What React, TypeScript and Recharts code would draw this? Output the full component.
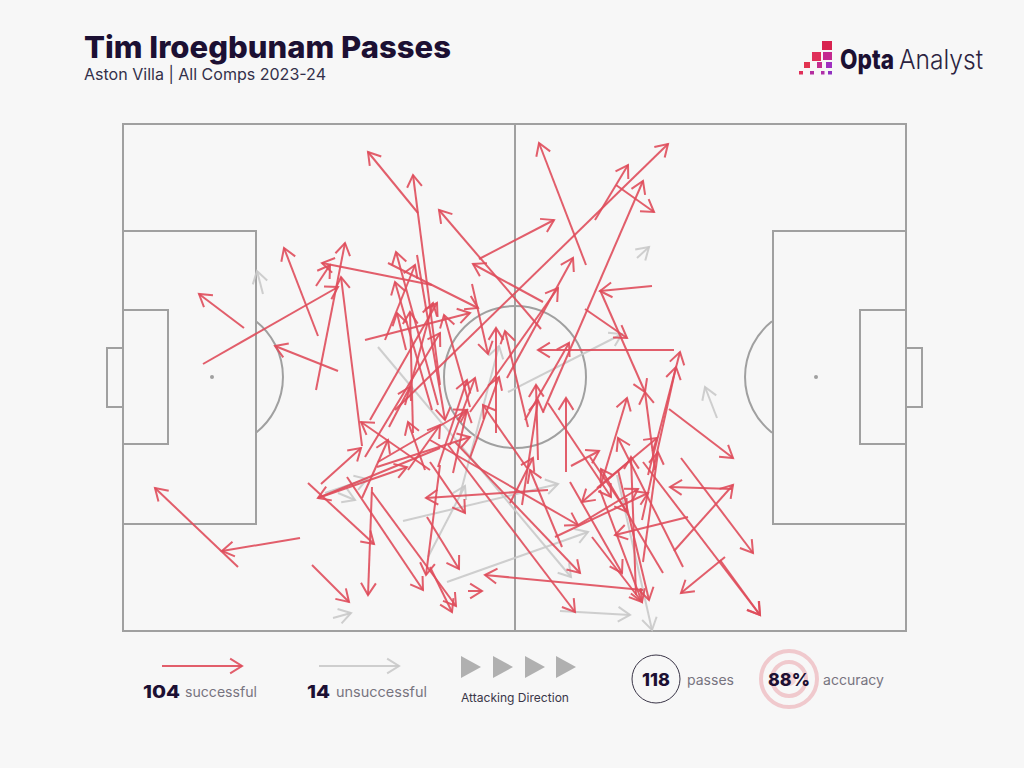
import React from "react";
import { ScatterChart, Scatter, XAxis, YAxis, ReferenceArea, ReferenceLine, ReferenceDot } from "recharts";

// pass = [fromX, fromY, toX, toY], on the pitch picture's own scale
const successfulPasses = [
  [238,567,155,488],[300,538,222,551],[244,328,199,294],[318,336,284,248],[338,371,275,346],
  [203,364,338,287],[316,390,345,243],[362,446,341,277],[321,484,361,448],[316,286,330,265],
  [432,285,322,263],[388,263,478,308],[418,213,368,152],[440,385,413,175],[541,329,439,210],
  [479,259,554,220],[543,302,473,264],[586,265,539,143],[395,410,668,144],[595,220,628,165],
  [616,185,654,212],[543,412,643,181],[652,286,600,291],[507,378,573,258],[470,412,558,288],
  [585,309,627,338],[674,350,538,350],[525,420,569,343],[566,472,566,398],[528,427,505,331],
  [538,460,536,385],[522,505,538,400],[510,503,533,458],[562,547,530,470],[496,433,496,328],
  [470,458,499,377],[527,468,483,405],[438,467,467,380],[450,445,475,378],[472,284,488,354],
  [365,340,470,313],[470,407,444,315],[669,409,733,458],[681,458,753,553],[732,489,670,487],
  [674,551,733,485],[725,557,681,593],[688,517,615,535],[643,462,760,615],[720,560,760,615],
  [683,567,618,438],[663,573,601,469],[636,595,631,457],[643,562,658,452],[597,488,657,438],
  [633,458,582,502],[600,290,645,392],[655,470,645,392],[648,475,680,352],[642,520,676,367],
  [600,488,627,398],[571,466,599,451],[548,403,611,497],[643,590,485,575],[468,591,482,591],
  [312,565,349,602],[372,487,368,595],[308,483,374,544],[347,477,423,590],[372,492,456,606],
  [427,517,459,569],[440,465,426,575],[430,567,452,612],[440,448,318,498],[548,490,426,498],
  [430,462,465,513],[362,498,388,440],[377,467,470,437],[318,498,407,467],[448,445,575,612],
  [455,442,580,573],[555,537,648,493],[578,525,638,489],[590,457,627,512],[570,482,622,573],
  [592,537,642,602],[618,470,649,600],[600,490,642,602],[430,470,361,422],[430,440,578,525],
  [378,462,467,410],[438,405,396,252],[432,410,395,282],[385,340,415,265],[370,420,437,303],
  [406,350,397,313],[413,433,410,312],[389,427,410,387],[365,457,440,333],[425,470,408,422],
  [405,405,433,303],[408,470,440,425],[417,255,445,420],[453,473,467,410],
];
const unsuccessfulPasses = [
  [378,347,571,577],[263,294,257,271],[325,493,367,479],[338,493,355,500],[333,618,351,613],
  [403,521,558,484],[447,582,588,532],[560,611,630,615],[617,475,652,630],[508,392,622,334],
  [717,418,705,387],[637,258,649,247],[428,557,465,486],[460,495,499,346],
];
const legendSuccess = [[162,666,242,666]];
const legendFail = [[319,666,399,666]];

const pitchBoxes = [
  [123,124,906,631],[123,231,256,524],[123,310,168,444],[107,348,123,407],
  [773,231,906,524],[860,310,906,444],[906,348,922,407],
];
const spots = [[212,377],[816,377]];
const RED = "#df4c5b";
const GREY = "#c9c9c9";
const PITCH = "#a0a0a0";
const INK = "#1c1033";

function head(color: string) {
  return (p: any) => {
    const d = p.payload;
    if (!d || !d.tip) return <g />;
    const a = Math.atan2(d.y - d.fy, d.x - d.fx);
    const L = 14, s = 0.56;
    const b1x = p.cx - L * Math.cos(a - s), b1y = p.cy - L * Math.sin(a - s);
    const b2x = p.cx - L * Math.cos(a + s), b2y = p.cy - L * Math.sin(a + s);
    return <path d={`M${b1x} ${b1y}L${p.cx} ${p.cy}L${b2x} ${b2y}`} fill="none" stroke={color} strokeWidth={2} strokeOpacity={0.9} />;
  };
}

function arrows(list: number[][], color: string, key: string) {
  return list.map((a, i) => (
    <Scatter
      key={key + i}
      isAnimationActive={false}
      data={[{ x: a[0], y: a[1] }, { x: a[2], y: a[3], fx: a[0], fy: a[1], tip: true }]}
      line={{ stroke: color, strokeWidth: 2, strokeOpacity: 0.9 }}
      lineType="joint"
      shape={head(color)}
    />
  ));
}

const arc = (dir: number) => (p: any) => {
  const r = 71, dx = 44, dy = 55.7;
  const x = p.cx + dir * dx;
  return <path d={`M${x} ${p.cy - dy}A${r} ${r} 0 0 ${dir > 0 ? 1 : 0} ${x} ${p.cy + dy}`} fill="none" stroke={PITCH} strokeWidth={2} />;
};

const T = (props: any) => <text fontFamily="Inter, sans-serif" lengthAdjust="spacingAndGlyphs" {...props} />;

const logoSquares = [
  [822,41,10,9,"#d8234f"],[812,52,9,9,"#e0305a"],[823,52,9,8,"#c42a90"],
  [804,62,6,6,"#e23450"],[817,62,5,6,"#c42e90"],[826,62,6,6,"#a030c0"],
  [799,71,4,3.5,"#e0305a"],[810,71,4,3.5,"#b42ea0"],[821,71,3.5,3.5,"#b02ea8"],[828,71,4,3.5,"#9030c0"],
];

export default function App() {
  return (
    <div style={{ position: "fixed", left: 0, top: 0, width: 1024, height: 768, background: "#f7f7f7" }}>
      <ScatterChart width={1024} height={768} margin={{ top: 0, right: 0, bottom: 0, left: 0 }}>
        <XAxis type="number" dataKey="x" domain={[0, 1024]} hide allowDataOverflow />
        <YAxis type="number" dataKey="y" domain={[0, 768]} reversed hide allowDataOverflow />
        {pitchBoxes.map((b, i) => (
          <ReferenceArea key={i} x1={b[0]} y1={b[1]} x2={b[2]} y2={b[3]} fill="none" fillOpacity={0} stroke={PITCH} strokeWidth={2} strokeOpacity={1} ifOverflow="visible" />
        ))}
        <ReferenceLine segment={[{ x: 515, y: 124 }, { x: 515, y: 631 }]} stroke={PITCH} strokeWidth={2} />
        <ReferenceDot x={515} y={377} r={71} fill="none" stroke={PITCH} strokeWidth={2} />
        {spots.map((s, i) => (
          <ReferenceDot key={i} x={s[0]} y={s[1]} r={2} fill={PITCH} stroke="none" />
        ))}
        <ReferenceDot x={212} y={377} r={71} shape={arc(1)} />
        <ReferenceDot x={816} y={377} r={71} shape={arc(-1)} />
        {arrows(unsuccessfulPasses, GREY, "u")}
        {arrows(successfulPasses, RED, "s")}
        {arrows(legendSuccess, RED, "ls")}
        {arrows(legendFail, GREY, "lf")}
      </ScatterChart>
      <svg width={1024} height={768} style={{ position: "absolute", left: 0, top: 0, pointerEvents: "none" }}>
        <T x={84} y={58} fontSize={30} fontWeight={800} fill={INK} textLength={367}>Tim Iroegbunam Passes</T>
        <T x={84} y={80} fontSize={16} fontWeight={400} fill="#33304a" textLength={242}>Aston Villa | All Comps 2023-24</T>
        {logoSquares.map((s, i) => (
          <rect key={i} x={s[0] as number} y={s[1] as number} width={s[2] as number} height={s[3] as number} fill={s[4] as string} />
        ))}
        <T x={840} y={69} fontSize={27} fontWeight={800} fill={INK} textLength={54}>Opta</T>
        <T x={899} y={69} fontSize={27} fontWeight={300} fill="#2b2340" textLength={84}>Analyst</T>

        <T x={143} y={698} fontSize={18} fontWeight={800} fill={INK} textLength={37}>104</T>
        <T x={185} y={697} fontSize={14} fill="#77747f" textLength={72}>successful</T>
        <T x={307} y={698} fontSize={18} fontWeight={800} fill={INK} textLength={23}>14</T>
        <T x={336} y={697} fontSize={14} fill="#77747f" textLength={91}>unsuccessful</T>
        {[461, 493, 525, 556].map((x) => (
          <polygon key={x} points={`${x},656 ${x + 20},667 ${x},678`} fill="#b0b0b0" />
        ))}
        <T x={461} y={702} fontSize={12} fill="#3a3648" textLength={108}>Attacking Direction</T>
        <circle cx={656} cy={679} r={24} fill="none" stroke="#3b3648" strokeWidth={1} />
        <T x={656} y={686} fontSize={18} fontWeight={800} fill={INK} textAnchor="middle">118</T>
        <T x={687} y={685} fontSize={14} fill="#77747f" textLength={47}>passes</T>
        <circle cx={789} cy={679} r={28} fill="none" stroke="#f0c9cd" strokeWidth={4} />
        <circle cx={789} cy={679} r={17} fill="none" stroke="#f0c9cd" strokeWidth={4} />
        <circle cx={789} cy={679} r={7} fill="#f3d5d8" />
        <T x={768} y={686} fontSize={18} fontWeight={800} fill={INK} textLength={42}>88%</T>
        <T x={823} y={685} fontSize={14} fill="#77747f" textLength={61}>accuracy</T>
      </svg>
    </div>
  );
}
